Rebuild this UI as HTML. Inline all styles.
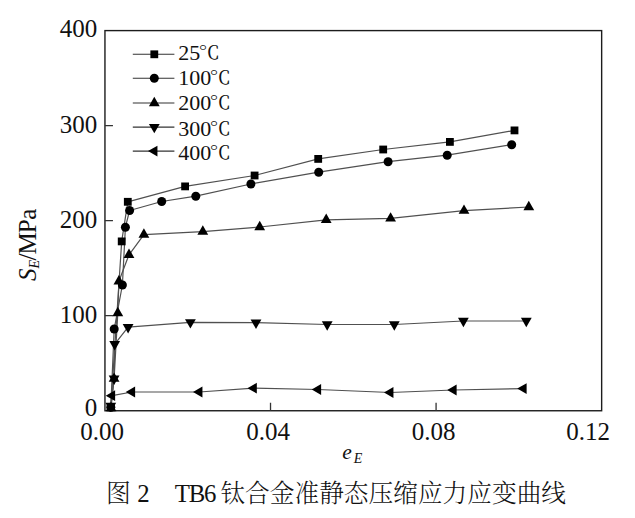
<!DOCTYPE html>
<html><head><meta charset="utf-8"><title>TB6</title>
<style>
html,body{margin:0;padding:0;background:#fff;}
svg{display:block;}
.num{font-family:"Liberation Serif","Noto Serif CJK SC",serif;fill:#111;}
.cjk{font-family:"Liberation Serif","Noto Serif CJK SC",serif;fill:#111;}
</style></head><body>
<svg width="635" height="518" viewBox="0 0 635 518">
<rect x="0" y="0" width="635" height="518" fill="#fff"/>
<g fill="none" stroke="#505050" stroke-width="1.2" stroke-linejoin="round">
<polyline points="110.8,407.3 121.7,241.4 127.8,201.8 185.1,186.4 254.6,175.5 318.2,158.9 383.2,149.5 449.9,141.9 514.5,130.4"/>
<polyline points="110.8,407.3 114.2,329 122.4,285 125.4,227.2 129.6,210.5 161.7,201.5 195.8,196.2 250.9,184 318.7,172.2 388.1,161.7 447.2,155.2 511.7,144.7"/>
<polyline points="111,408.2 114.1,378.7 117.8,313 118.9,281.3 129,254.8 143.9,234.6 202.8,231.6 259.7,227 326.2,219.8 390.6,218.4 464,210.7 528.8,207"/>
<polyline points="110.8,405.8 114.1,378.7 114.7,344.2 128.1,327.2 190.4,322.3 256,322.7 327.2,324.5 394.3,324.5 463.4,321 526.3,321"/>
<polyline points="110.8,407.3 112,395.7 132,392 199.3,392 253.7,388.2 318,389.5 390.3,392.5 453.5,390 523.5,388.6"/>
</g>
<rect x="104.95" y="30.6" width="496.7" height="380.15" fill="none" stroke="#1c1c1c" stroke-width="1.4"/>
<path d="M104.95 315.71H112.95 M104.95 220.68H112.95 M104.95 125.64H112.95 M270.52 410.75V402.75 M436.08 410.75V402.75" stroke="#333" stroke-width="1.3" fill="none"/>
<g fill="#000">
<rect x="106.9" y="403.4" width="7.8" height="7.8"/>
<rect x="117.8" y="237.5" width="7.8" height="7.8"/>
<rect x="123.9" y="197.9" width="7.8" height="7.8"/>
<rect x="181.2" y="182.5" width="7.8" height="7.8"/>
<rect x="250.7" y="171.6" width="7.8" height="7.8"/>
<rect x="314.3" y="155" width="7.8" height="7.8"/>
<rect x="379.3" y="145.6" width="7.8" height="7.8"/>
<rect x="446" y="138" width="7.8" height="7.8"/>
<rect x="510.6" y="126.5" width="7.8" height="7.8"/>
<circle cx="110.8" cy="407.3" r="4.5"/>
<circle cx="114.2" cy="329" r="4.5"/>
<circle cx="122.4" cy="285" r="4.5"/>
<circle cx="125.4" cy="227.2" r="4.5"/>
<circle cx="129.6" cy="210.5" r="4.5"/>
<circle cx="161.7" cy="201.5" r="4.5"/>
<circle cx="195.8" cy="196.2" r="4.5"/>
<circle cx="250.9" cy="184" r="4.5"/>
<circle cx="318.7" cy="172.2" r="4.5"/>
<circle cx="388.1" cy="161.7" r="4.5"/>
<circle cx="447.2" cy="155.2" r="4.5"/>
<circle cx="511.7" cy="144.7" r="4.5"/>
<polygon points="111,401.93 116.4,411.33 105.6,411.33"/>
<polygon points="114.1,372.43 119.5,381.83 108.7,381.83"/>
<polygon points="117.8,306.73 123.2,316.13 112.4,316.13"/>
<polygon points="118.9,275.03 124.3,284.43 113.5,284.43"/>
<polygon points="129,248.53 134.4,257.93 123.6,257.93"/>
<polygon points="143.9,228.33 149.3,237.73 138.5,237.73"/>
<polygon points="202.8,225.33 208.2,234.73 197.4,234.73"/>
<polygon points="259.7,220.73 265.1,230.13 254.3,230.13"/>
<polygon points="326.2,213.53 331.6,222.93 320.8,222.93"/>
<polygon points="390.6,212.13 396,221.53 385.2,221.53"/>
<polygon points="464,204.43 469.4,213.83 458.6,213.83"/>
<polygon points="528.8,200.73 534.2,210.13 523.4,210.13"/>
<polygon points="105.4,402.67 116.2,402.67 110.8,412.07"/>
<polygon points="108.7,375.57 119.5,375.57 114.1,384.97"/>
<polygon points="109.3,341.07 120.1,341.07 114.7,350.47"/>
<polygon points="122.7,324.07 133.5,324.07 128.1,333.47"/>
<polygon points="185,319.17 195.8,319.17 190.4,328.57"/>
<polygon points="250.6,319.57 261.4,319.57 256,328.97"/>
<polygon points="321.8,321.37 332.6,321.37 327.2,330.77"/>
<polygon points="388.9,321.37 399.7,321.37 394.3,330.77"/>
<polygon points="458,317.87 468.8,317.87 463.4,327.27"/>
<polygon points="520.9,317.87 531.7,317.87 526.3,327.27"/>
<polygon points="105.73,395.7 115.13,390.3 115.13,401.1"/>
<polygon points="125.73,392 135.13,386.6 135.13,397.4"/>
<polygon points="193.03,392 202.43,386.6 202.43,397.4"/>
<polygon points="247.43,388.2 256.83,382.8 256.83,393.6"/>
<polygon points="311.73,389.5 321.13,384.1 321.13,394.9"/>
<polygon points="384.03,392.5 393.43,387.1 393.43,397.9"/>
<polygon points="447.23,390 456.63,384.6 456.63,395.4"/>
<polygon points="517.23,388.6 526.63,383.2 526.63,394"/>
</g>
<path d="M132.8 54.3H174.4" stroke="#333" stroke-width="1.1"/>
<g fill="#000"><rect x="150.4" y="50.4" width="7.8" height="7.8"/></g>
<text class="num" x="178.2" y="60" font-size="22">25</text>
<text class="num" transform="translate(198.6 59.2) scale(1.0 0.87)" x="0" y="0" font-size="21.5">℃</text>
<path d="M132.8 78.3H174.4" stroke="#333" stroke-width="1.1"/>
<g fill="#000"><circle cx="154.3" cy="78.3" r="4.5"/></g>
<text class="num" x="178.2" y="84.8" font-size="22">100</text>
<text class="num" transform="translate(209.6 84) scale(1.0 0.87)" x="0" y="0" font-size="21.5">℃</text>
<path d="M132.8 103H174.4" stroke="#333" stroke-width="1.1"/>
<g fill="#000"><polygon points="154.3,96.73 159.7,106.13 148.9,106.13"/></g>
<text class="num" x="178.2" y="109.5" font-size="22">200</text>
<text class="num" transform="translate(209.6 108.7) scale(1.0 0.87)" x="0" y="0" font-size="21.5">℃</text>
<path d="M132.8 127.1H174.4" stroke="#333" stroke-width="1.1"/>
<g fill="#000"><polygon points="148.9,123.97 159.7,123.97 154.3,133.37"/></g>
<text class="num" x="178.2" y="135.5" font-size="22">300</text>
<text class="num" transform="translate(209.6 134.7) scale(1.0 0.87)" x="0" y="0" font-size="21.5">℃</text>
<path d="M132.8 151.1H174.4" stroke="#333" stroke-width="1.1"/>
<g fill="#000"><polygon points="148.03,151.1 157.43,145.7 157.43,156.5"/></g>
<text class="num" x="178.2" y="160" font-size="22">400</text>
<text class="num" transform="translate(209.6 159.2) scale(1.0 0.87)" x="0" y="0" font-size="21.5">℃</text>
<text class="num" x="97.2" y="37.2" font-size="25" text-anchor="end">400</text>
<text class="num" x="97.2" y="132.6" font-size="25" text-anchor="end">300</text>
<text class="num" x="97.2" y="227.6" font-size="25" text-anchor="end">200</text>
<text class="num" x="97.2" y="322.6" font-size="25" text-anchor="end">100</text>
<text class="num" x="97.2" y="416.2" font-size="25" text-anchor="end">0</text>
<text class="num" x="102" y="439.6" font-size="25" text-anchor="middle">0.00</text>
<text class="num" x="268" y="439.6" font-size="25" text-anchor="middle">0.04</text>
<text class="num" x="433.5" y="439.6" font-size="25" text-anchor="middle">0.08</text>
<text class="num" x="588" y="439.6" font-size="25" text-anchor="middle">0.12</text>
<text class="num" x="342.3" y="459.4" font-size="21.5" font-style="italic">e<tspan font-size="14" dx="1.9" dy="3.3">E</tspan></text>
<text class="num" transform="translate(36.2 281) rotate(-90)" font-size="25"><tspan font-style="italic">S</tspan><tspan font-size="14" font-style="italic" dy="2.7">E</tspan><tspan dy="-2.7" dx="-0.5">/</tspan><tspan dx="-1">M</tspan><tspan dx="-1">P</tspan><tspan dx="-0.4">a</tspan></text>
<text class="cjk" y="502.2" font-size="24.8"><tspan x="106" font-weight="300">图</tspan><tspan x="137.2">2</tspan><tspan x="174.7" letter-spacing="-1.2">TB6</tspan><tspan x="220.4" font-size="24.7" font-weight="300">钛合金准静态压缩应力应变曲线</tspan></text>
</svg>
</body></html>
